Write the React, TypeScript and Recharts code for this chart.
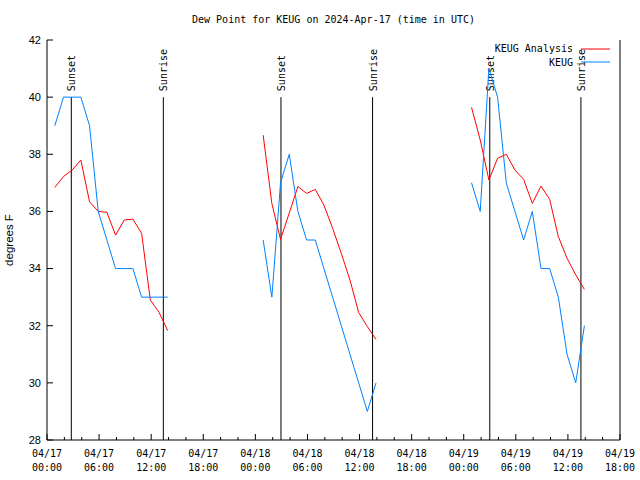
import React from "react";
import {
  Legend,
  Line,
  LineChart,
  ReferenceLine,
  XAxis,
  YAxis,
} from "recharts";

// Hours after 04/17 00:00 UTC of the first hourly observation of each day.
const segmentStartHours = [0.9, 24.9, 48.9];

// KEUG Analysis (red), degrees F, one value per hour.
const analysisDay1 = [36.84, 37.22, 37.45, 37.8, 36.34, 36.0, 35.97, 35.17, 35.7, 35.73, 35.23, 32.9, 32.47, 31.83];
const analysisDay2 = [38.67, 36.28, 35.02, 35.94, 36.87, 36.63, 36.77, 36.22, 35.41, 34.53, 33.6, 32.46, 31.97, 31.52];
const analysisDay3 = [39.64, 38.5, 37.1, 37.86, 38.0, 37.45, 37.12, 36.28, 36.89, 36.42, 35.12, 34.36, 33.78, 33.27];

// KEUG observations (blue), degrees F.
const obsDay1 = [39, 40, 40, 40, 39, 36, 35, 34, 34, 34, 33, 33, 33, 33];
const obsDay2 = [35, 33, 37, 38, 36, 35, 35, 34, 33, 32, 31, 30, 29, 30];
const obsDay3 = [37, 36, 41, 40, 37, 36, 35, 36, 34, 34, 33, 31, 30, 32];

const sunEventHours = [2.8, 13.4, 26.95, 37.5, 51.0, 61.5];
const sunEventLabels = ["Sunset", "Sunrise", "Sunset", "Sunrise", "Sunset", "Sunrise"];

const xTickHours = [0, 2, 4, 6, 8, 10, 12, 14, 16, 18, 20, 22, 24, 26, 28, 30, 32, 34, 36, 38, 40, 42, 44, 46, 48, 50, 52, 54, 56, 58, 60, 62, 64, 66];
const xMajorHours = [0, 6, 12, 18, 24, 30, 36, 42, 48, 54, 60, 66];
const xDateLabels = ["04/17", "04/17", "04/17", "04/17", "04/18", "04/18", "04/18", "04/18", "04/19", "04/19", "04/19", "04/19"];
const xTimeLabels = ["00:00", "06:00", "12:00", "18:00", "00:00", "06:00", "12:00", "18:00", "00:00", "06:00", "12:00", "18:00"];
const yTicks = [28, 30, 32, 34, 36, 38, 40, 42];
const legendOrder = ["KEUG Analysis", "KEUG"];

const RED = "#ff0000";
const BLUE = "#0080ff";
const MONO = "'DejaVu Sans Mono', monospace";
const SANS = "'Liberation Sans', Arial, sans-serif";

// one row per hour, with an empty row between days so the lines break
const analysisDays = [analysisDay1, analysisDay2, analysisDay3];
const obsDays = [obsDay1, obsDay2, obsDay3];
const rows: { t: number; analysis: number | null; obs: number | null }[] = [];
segmentStartHours.forEach((start, d) => {
  analysisDays[d].forEach((v, i) => {
    rows.push({ t: start + i, analysis: v, obs: obsDays[d][i] });
  });
  rows.push({ t: start + analysisDays[d].length + 2, analysis: null, obs: null });
});

function BottomTick({ x, y, payload }: any) {
  const idx = xMajorHours.indexOf(payload.value);
  const major = idx >= 0;
  return (
    <g>
      <line x1={x} y1={y} x2={x} y2={y - (major ? 6 : 3)} stroke="#000" />
      {major && (
        <text x={x} y={y + 17} textAnchor="middle" fontFamily={MONO} fontSize={10} fill="#000">
          <tspan x={x}>{xDateLabels[idx]}</tspan>
          <tspan x={x} dy={14}>{xTimeLabels[idx]}</tspan>
        </text>
      )}
    </g>
  );
}

function TopTick({ x, y, payload }: any) {
  const major = xMajorHours.includes(payload.value);
  return <line x1={x} y1={y} x2={x} y2={y + (major ? 6 : 3)} stroke="#000" />;
}

function LeftTick({ x, y, payload }: any) {
  return (
    <g>
      <line x1={x} y1={y} x2={x + 6} y2={y} stroke="#000" />
      <text x={x - 6} y={y} dy="0.35em" textAnchor="end" fontFamily={SANS} fontSize={11} fill="#000">
        {payload.value}
      </text>
    </g>
  );
}

function RightTick({ x, y }: any) {
  return <line x1={x} y1={y} x2={x - 6} y2={y} stroke="#000" />;
}

function sunLabel(text: string) {
  return ({ viewBox }: any) => {
    const lx = viewBox.x + 4;
    const ly = viewBox.y - 6;
    return (
      <text
        x={lx}
        y={ly}
        transform={`rotate(-90, ${lx}, ${ly})`}
        fontFamily={MONO}
        fontSize={10}
        fill="#000"
      >
        {text}
      </text>
    );
  };
}

function LegendBox({ payload }: any) {
  const entries = [...(payload || [])].sort(
    (a: any, b: any) => legendOrder.indexOf(a.value) - legendOrder.indexOf(b.value)
  );
  return (
    <div style={{ fontFamily: MONO, fontSize: 10, color: "#000" }}>
      {entries.map((e: any) => (
        <div
          key={e.value}
          style={{ display: "flex", justifyContent: "flex-end", alignItems: "center", height: 13.5 }}
        >
          <span style={{ marginRight: 8 }}>{e.value}</span>
          <svg width={29} height={2} style={{ display: "block" }}>
            <line x1={0} y1={1} x2={29} y2={1} stroke={e.color} />
          </svg>
        </div>
      ))}
    </div>
  );
}

export default function App() {
  return (
    <div style={{ position: "absolute", left: 0, top: 0, width: 640, height: 480, background: "#fff" }}>
      <div
        style={{
          position: "absolute",
          left: 47,
          width: 573,
          top: 14,
          textAlign: "center",
          fontFamily: MONO,
          fontSize: 10,
          color: "#000",
        }}
      >
        Dew Point for KEUG on 2024-Apr-17 (time in UTC)
      </div>
      <LineChart width={640} height={480} data={rows} margin={{ top: 40, right: 0, bottom: 0, left: 0 }}>
        <XAxis
          xAxisId="bottom"
          dataKey="t"
          type="number"
          domain={[0, 66]}
          ticks={xTickHours}
          interval={0}
          height={40}
          tickSize={0}
          tickMargin={0}
          tickLine={false}
          axisLine={{ stroke: "#000" }}
          tick={BottomTick}
        />
        <XAxis
          xAxisId="top"
          orientation="top"
          dataKey="t"
          type="number"
          domain={[0, 66]}
          ticks={xTickHours}
          interval={0}
          height={0}
          tickSize={0}
          tickMargin={0}
          tickLine={false}
          axisLine={{ stroke: "#000" }}
          tick={TopTick}
        />
        <YAxis
          yAxisId="left"
          type="number"
          domain={[28, 42]}
          ticks={yTicks}
          interval={0}
          width={47}
          tickSize={0}
          tickMargin={0}
          tickLine={false}
          axisLine={{ stroke: "#000" }}
          tick={LeftTick}
          label={() => (
            <text
              x={13}
              y={240}
              transform="rotate(-90, 13, 240)"
              textAnchor="middle"
              fontFamily={SANS}
              fontSize={11.5}
              fill="#000"
            >
              degrees F
            </text>
          )}
        />
        <YAxis
          yAxisId="right"
          orientation="right"
          type="number"
          domain={[28, 42]}
          ticks={yTicks}
          interval={0}
          width={20}
          tickSize={0}
          tickMargin={0}
          tickLine={false}
          axisLine={{ stroke: "#000" }}
          tick={RightTick}
        />
        {sunEventHours.map((h, i) => (
          <ReferenceLine
            key={i}
            xAxisId="bottom"
            yAxisId="left"
            segment={[
              { x: h, y: 40 },
              { x: h, y: 28 },
            ]}
            stroke="#000"
            strokeWidth={1}
            label={sunLabel(sunEventLabels[i])}
          />
        ))}
        <Line
          xAxisId="bottom"
          yAxisId="left"
          type="linear"
          dataKey="analysis"
          name="KEUG Analysis"
          stroke={RED}
          strokeWidth={1}
          dot={false}
          isAnimationActive={false}
        />
        <Line
          xAxisId="bottom"
          yAxisId="left"
          type="linear"
          dataKey="obs"
          name="KEUG"
          stroke={BLUE}
          strokeWidth={1}
          dot={false}
          isAnimationActive={false}
        />
        <Legend
          layout="horizontal"
          verticalAlign="middle"
          align="center"
          content={LegendBox}
          wrapperStyle={{ top: 42, left: 440, width: 170, height: 28 }}
        />
      </LineChart>
    </div>
  );
}
